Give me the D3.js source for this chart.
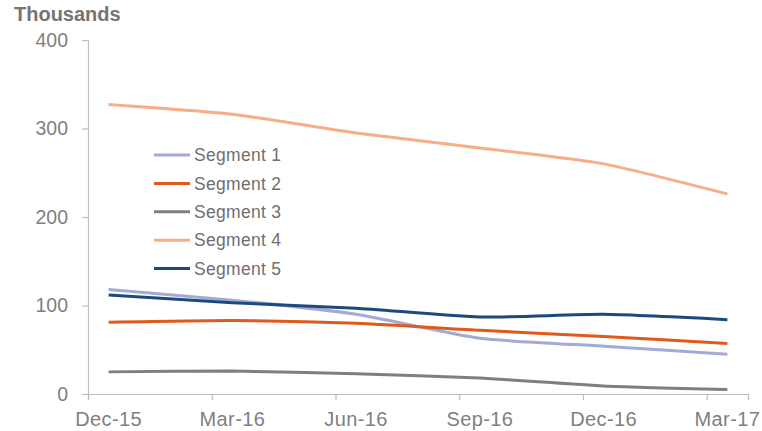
<!DOCTYPE html>
<html>
<head>
<meta charset="utf-8">
<script src="https://cdn.jsdelivr.net/npm/d3@7/dist/d3.min.js"></script>
<style>
  html, body { margin: 0; padding: 0; background: #fff; }
  svg { display: block; font-family: "Liberation Sans", Arial, sans-serif; }
</style>
</head>
<body>
<svg id="chart" width="762" height="431"></svg>
<script>
// Quarter-end labels on a monthly date axis (Dec-15 .. Mar-17)
const quarters = ["Dec-15", "Mar-16", "Jun-16", "Sep-16", "Dec-16", "Mar-17"];
const seriesNames = ["Segment 1", "Segment 2", "Segment 3", "Segment 4", "Segment 5"];
const seriesColors = ["#a3aad6", "#df5a1d", "#7f7f7f", "#f7ad88", "#1d4a7c"];

// Values in thousands, one per quarter
const segment1 = [118, 106, 90, 63, 54, 45];
const segment2 = [81, 83, 80, 72, 65, 57];
const segment3 = [25, 26, 23, 18, 9, 5];
const segment4 = [327, 316, 295, 278, 260, 226];
const segment5 = [112, 103, 97, 87, 90, 84];

const yTicks = [0, 100, 200, 300, 400];
const monthsSpan = 16; // Dec-15 through Mar-17 inclusive

const seriesValues = [segment1, segment2, segment3, segment4, segment5];

const svg = d3.select("#chart");
const margin = { left: 88, right: 14, top: 40, bottom: 37 };
const W = 762, H = 431;

// Each month occupies one slot; points sit in the middle of their month
const x = d3.scaleLinear().domain([0, monthsSpan]).range([margin.left, W - margin.right]);
const y = d3.scaleLinear().domain([0, 400]).range([H - margin.bottom, margin.top]);

const axisColor = "#bdbdbd";
const textColor = "#7f7f7f";

// Units caption
svg.append("text")
  .attr("x", 14).attr("y", 21)
  .attr("font-size", 20).attr("font-weight", "bold")
  .attr("fill", "#747474")
  .text("Thousands");

// Y axis
const yAxis = svg.append("g")
  .attr("transform", `translate(${margin.left},0)`)
  .call(d3.axisLeft(y).tickValues(yTicks).tickSize(6).tickPadding(14).tickFormat(d3.format("d")));
yAxis.select(".domain").attr("stroke", axisColor).attr("stroke-width", 1.2);
yAxis.selectAll(".tick line").attr("stroke", axisColor).attr("stroke-width", 1.2);
yAxis.selectAll(".tick text")
  .attr("font-size", 19.5).attr("fill", textColor)
  .attr("font-family", "Liberation Sans, Arial, sans-serif");

// X axis: ticks every three months, labels centred on each quarter-end month
const tickMonths = quarters.map((q, i) => i * 3);
const xAxis = svg.append("g")
  .attr("transform", `translate(0,${y(0)})`)
  .call(d3.axisBottom(x).tickValues(tickMonths).tickSize(6).tickFormat(""));
xAxis.select(".domain").attr("stroke", axisColor).attr("stroke-width", 1.2);
xAxis.selectAll(".tick line").attr("stroke", axisColor).attr("stroke-width", 1.2);

svg.append("g").selectAll("text")
  .data(quarters)
  .join("text")
  .attr("x", (d, i) => x(i * 3 + 0.5))
  .attr("y", y(0) + 32)
  .attr("text-anchor", "middle")
  .attr("font-size", 20).attr("letter-spacing", 0.4).attr("fill", textColor)
  .text(d => d);

// Series lines, lightly smoothed
const line = d3.line()
  .x((d, i) => x(i * 3 + 0.5))
  .y(d => y(d))
  .curve(d3.curveCardinal.tension(0.45));

svg.append("g").selectAll("path")
  .data(seriesValues)
  .join("path")
  .attr("d", d => line(d))
  .attr("fill", "none")
  .attr("stroke", (d, i) => seriesColors[i])
  .attr("stroke-width", 3)
  .attr("stroke-linejoin", "round")
  .attr("stroke-linecap", "butt");

// Legend
const legend = svg.append("g").attr("transform", "translate(154,155)");
const rows = legend.selectAll("g")
  .data(seriesNames)
  .join("g")
  .attr("transform", (d, i) => `translate(0,${i * 28.4})`);
rows.append("line")
  .attr("x1", 0).attr("x2", 36).attr("y1", 0).attr("y2", 0)
  .attr("stroke", (d, i) => seriesColors[i])
  .attr("stroke-width", 3);
rows.append("text")
  .attr("x", 40).attr("y", 0).attr("dy", "0.35em")
  .attr("font-size", 17.5).attr("letter-spacing", 0.3).attr("fill", "#6f6f6f")
  .text(d => d);
</script>
</body>
</html>
